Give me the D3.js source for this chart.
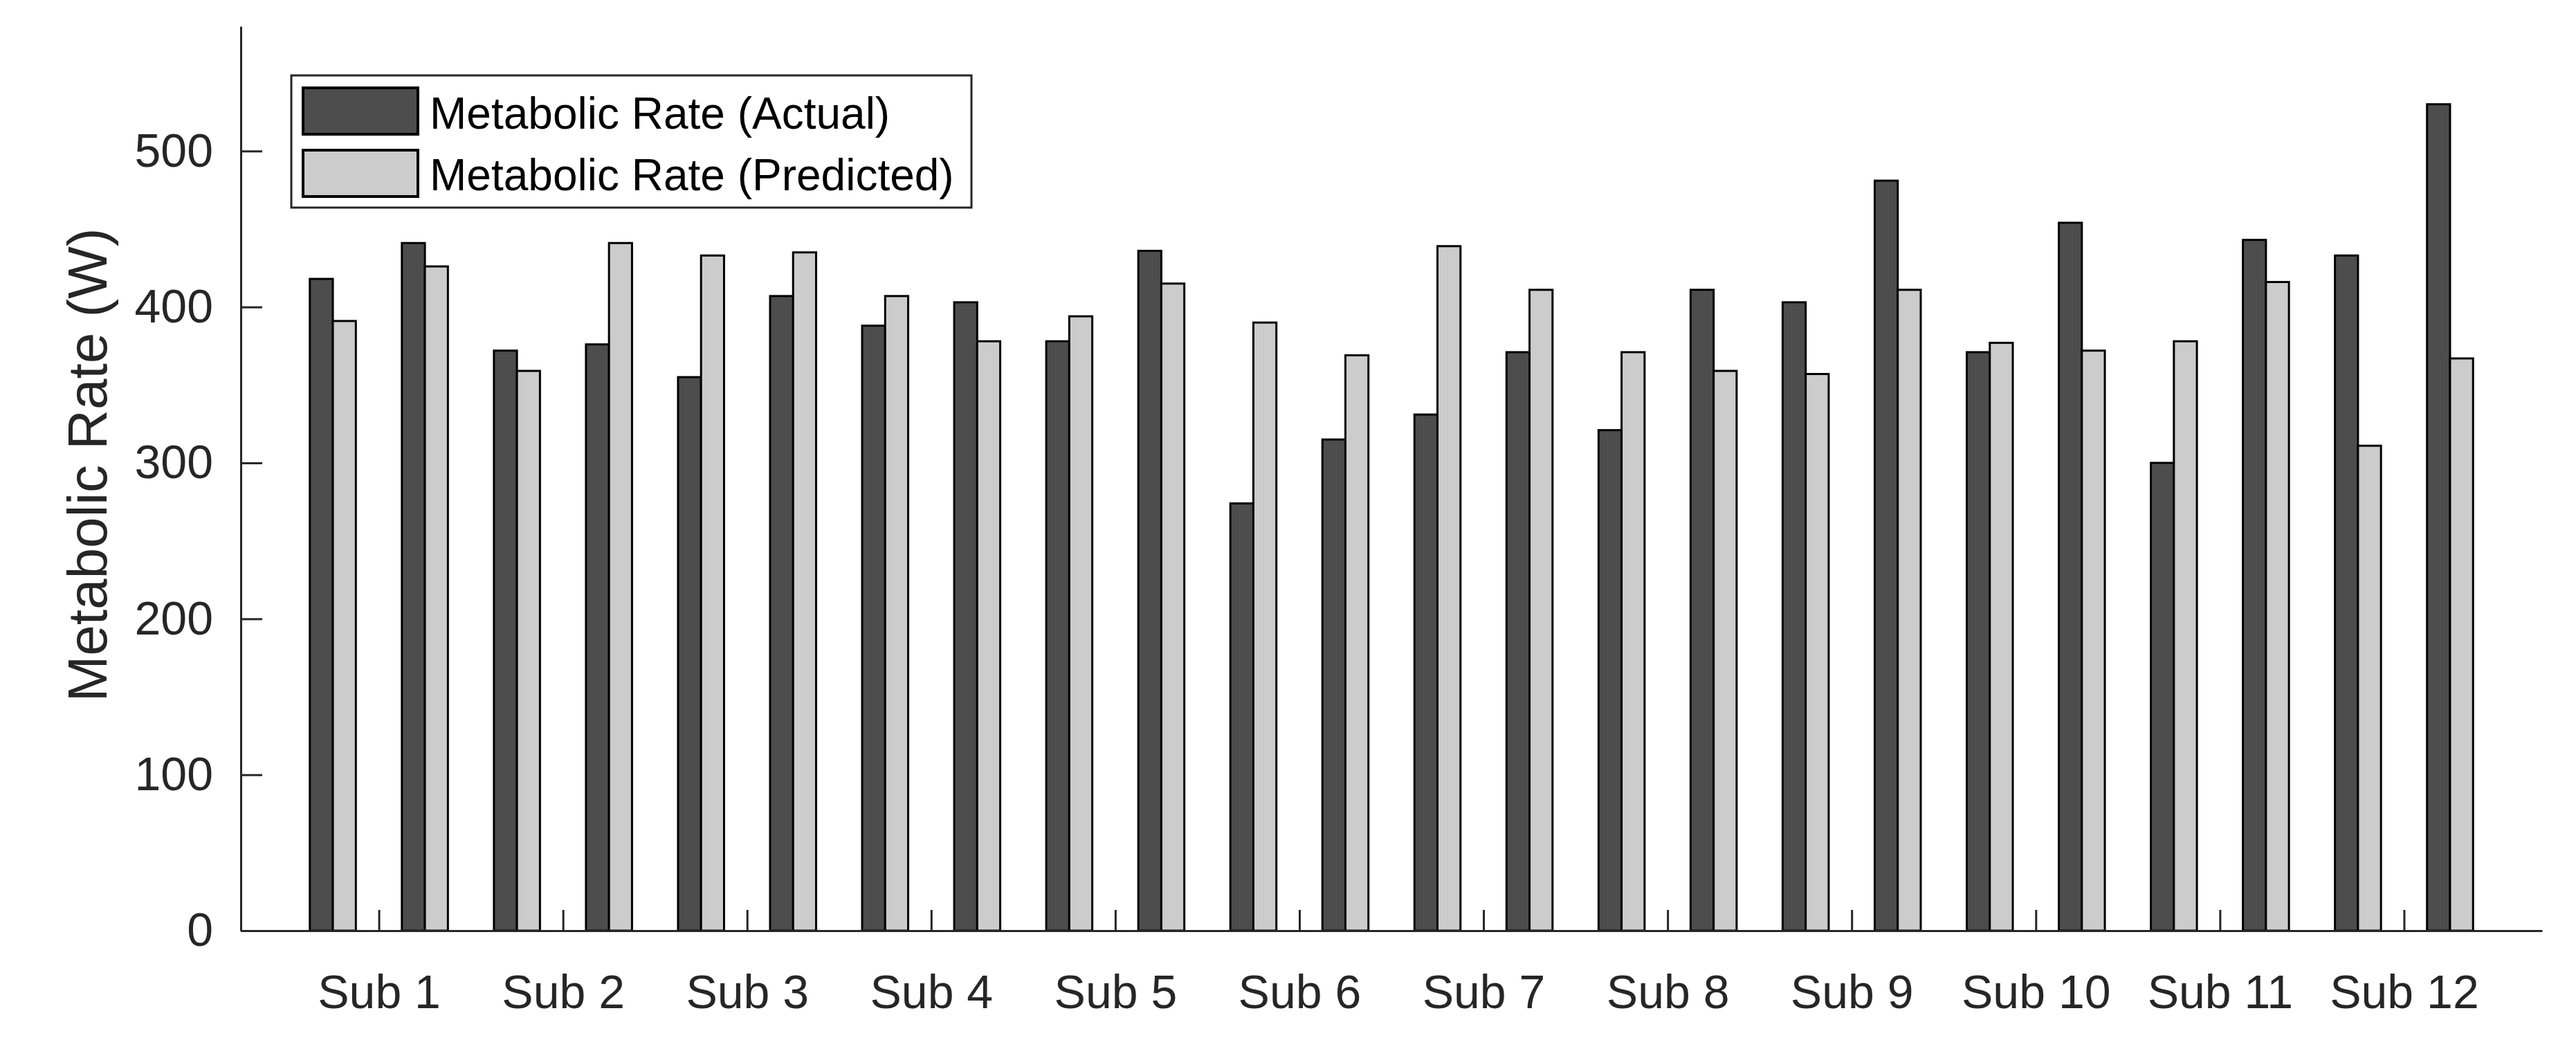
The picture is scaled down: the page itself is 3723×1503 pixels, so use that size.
<!DOCTYPE html>
<html>
<head>
<meta charset="utf-8">
<script src="https://cdn.jsdelivr.net/npm/d3@7"></script>
<style>
  body { margin: 0; background: #fff; }
  svg { display: block; font-family: "Liberation Sans", Arial, Helvetica, sans-serif; }
</style>
</head>
<body>
<svg id="chart" width="3723" height="1503"></svg>
<script>
// two bars per group, 24 groups, one label for every 2 groups
var subjects = ["Sub 1","Sub 2","Sub 3","Sub 4","Sub 5","Sub 6","Sub 7","Sub 8","Sub 9","Sub 10","Sub 11","Sub 12"];
var actual    = [418, 441, 372, 376, 355, 407, 388, 403, 378, 436, 274, 315, 331, 371, 321, 411, 403, 481, 371, 454, 300, 443, 433, 530];
var predicted = [391, 426, 359, 441, 433, 435, 407, 378, 394, 415, 390, 369, 439, 411, 371, 359, 357, 411, 377, 372, 378, 416, 311, 367];
var yTicks = [0, 100, 200, 300, 400, 500];
var seriesNames = ["Metabolic Rate (Actual)", "Metabolic Rate (Predicted)"];
var seriesColors = ["#4d4d4d", "#cccccc"];

var svg = d3.select("#chart");
var axisColor = "#262626";

var x = d3.scaleLinear().domain([0, 25]).range([348, 3674]);
var y = d3.scaleLinear().domain([0, 580]).range([1345, 38]);
var barW = 0.25;

// bars
var groups = d3.range(actual.length).map(function(i){ return i + 1; });
[actual, predicted].forEach(function(vals, s) {
  svg.append("g").selectAll("rect")
    .data(vals)
    .enter().append("rect")
    .attr("x", function(d, i){ return x(groups[i] - barW + s*barW); })
    .attr("y", function(d){ return y(d); })
    .attr("width", x(barW) - x(0))
    .attr("height", function(d){ return y(0) - y(d); })
    .attr("fill", seriesColors[s])
    .attr("stroke", "#000")
    .attr("stroke-width", 3);
});

// x axis
var xAxis = d3.axisBottom(x)
  .tickValues(subjects.map(function(d, i){ return 1.5 + 2*i; }))
  .tickFormat(function(d, i){ return subjects[i]; })
  .tickSizeInner(-30)
  .tickSizeOuter(0)
  .tickPadding(64);
var gx = svg.append("g").attr("transform", "translate(0," + y(0) + ")").call(xAxis);

// y axis
var yAxis = d3.axisLeft(y)
  .tickValues(yTicks)
  .tickSizeInner(-31)
  .tickSizeOuter(0)
  .tickPadding(40);
var gy = svg.append("g").attr("transform", "translate(" + x(0) + ",0)").call(yAxis);

[gx, gy].forEach(function(g) {
  g.select(".domain").attr("stroke", axisColor).attr("stroke-width", 3);
  g.selectAll(".tick line").attr("stroke", axisColor).attr("stroke-width", 3);
  g.selectAll(".tick text").attr("fill", axisColor).style("font-size", "68px");
});

// y label
svg.append("text")
  .attr("transform", "translate(126,672) rotate(-90)")
  .attr("text-anchor", "middle")
  .attr("dy", "0.35em")
  .attr("fill", axisColor)
  .style("font-size", "80px")
  .text("Metabolic Rate (W)");

// legend
var leg = svg.append("g");
leg.append("rect")
  .attr("x", 421).attr("y", 109)
  .attr("width", 983).attr("height", 191)
  .attr("fill", "#fff")
  .attr("stroke", axisColor)
  .attr("stroke-width", 3);
seriesNames.forEach(function(name, s) {
  leg.append("rect")
    .attr("x", 438).attr("y", 127 + s*90)
    .attr("width", 166).attr("height", 67)
    .attr("fill", seriesColors[s])
    .attr("stroke", "#000")
    .attr("stroke-width", 4);
  leg.append("text")
    .attr("x", 621).attr("y", 186 + s*89)
    .attr("fill", "#000")
    .style("font-size", "64px")
    .text(name);
});
</script>
</body>
</html>
